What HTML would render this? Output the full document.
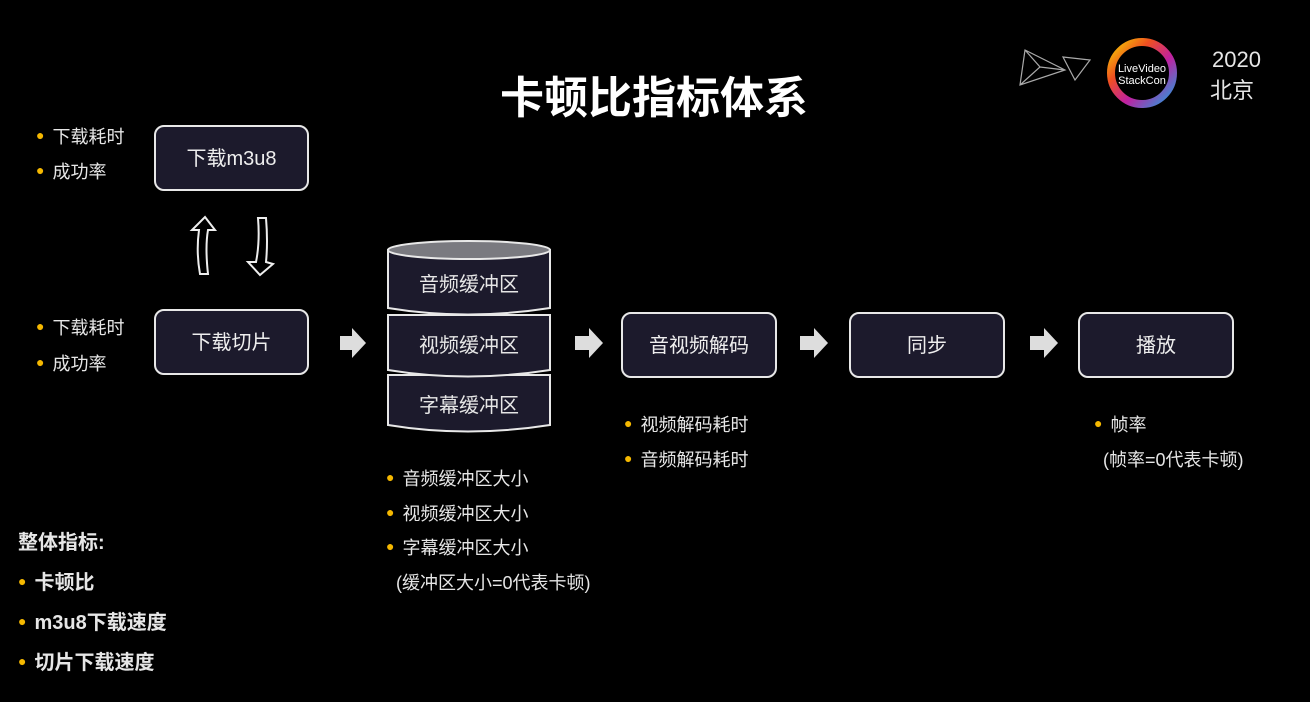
<!DOCTYPE html>
<html><head><meta charset="utf-8"><style>
body{margin:0;width:1310px;height:702px;background:#000;overflow:hidden;position:relative;font-family:"Liberation Sans","Noto Sans CJK SC",sans-serif;color:#e8e8e8}
.t{position:absolute;white-space:nowrap;font-size:18px;color:#e6e6e6}
.b{position:absolute;border:2px solid #e8e8e8;border-radius:10px;background:#1c1a2c;display:flex;align-items:center;justify-content:center;font-size:20px;color:#eee;box-sizing:border-box;padding-bottom:4px}
.dot{color:#f5b800;font-size:14px;margin-right:8px;position:relative;top:-3px}
</style></head><body>
<div class="t" style="left:500px;top:62px;font-size:44px;font-weight:bold;color:#fff">卡顿比指标体系</div>

<svg style="position:absolute;left:1015px;top:45px" width="80" height="45"><g fill="none" stroke="#aaa" stroke-width="1.2"><path d="M10 5 L50 25 L5 40 Z M10 5 L25 22 L5 40 M25 22 L50 25"/><path d="M48 12 L75 15 L60 35 Z"/></g></svg>
<svg style="position:absolute;left:1104px;top:36px" width="76" height="76"><defs><linearGradient id="g" x1="0" y1="0" x2="1" y2="1"><stop offset="0" stop-color="#f5d000"/><stop offset=".3" stop-color="#f05020"/><stop offset=".6" stop-color="#c020a0"/><stop offset="1" stop-color="#20a0e0"/></linearGradient></defs><circle cx="38" cy="37" r="31" fill="none" stroke="url(#g)" stroke-width="8"/><text x="38" y="36" font-size="11" fill="#fff" text-anchor="middle" font-family="Liberation Sans">LiveVideo</text><text x="38" y="48" font-size="11" fill="#fff" text-anchor="middle" font-family="Liberation Sans">StackCon</text></svg>
<div class="t" style="left:1212px;top:47px;font-size:22px">2020</div>
<div class="t" style="left:1210px;top:73px;font-size:22px">北京</div>

<div class="t" style="left:36px;top:123px"><span class="dot">●</span>下载耗时</div>
<div class="t" style="left:36px;top:158px"><span class="dot">●</span>成功率</div>
<div class="t" style="left:36px;top:314px"><span class="dot">●</span>下载耗时</div>
<div class="t" style="left:36px;top:350px"><span class="dot">●</span>成功率</div>

<div class="b" style="left:154px;top:125px;width:155px;height:66px">下载m3u8</div>
<div class="b" style="left:154px;top:309px;width:155px;height:66px">下载切片</div>

<svg style="position:absolute;left:180px;top:212px" width="100" height="70" fill="none" stroke="#eee" stroke-width="2"><path d="M20 62 L28 62 Q25 35 28 18 L35 18 L25 5 L12 18 L19 18 Q16 40 20 62 Z"/><path d="M78 6 L86 6 Q88 30 86 50 L93 52 L80 63 L68 50 L76 50 Q80 30 78 6 Z"/></svg>

<svg style="position:absolute;left:385px;top:238px" width="170" height="200">
<g stroke="#e8e8e8" stroke-width="2" fill="#1c1a2c">
<path d="M3 137 L3 187 Q82 200 165 187 L165 137 Z"/>
<path d="M3 77 L3 132 Q82 145 165 132 L165 77 Z"/>
<path d="M3 12 L3 70 Q82 83 165 70 L165 12 Z"/>
<ellipse cx="84" cy="12" rx="81" ry="9" fill="#7a7a80"/>
</g></svg>
<div class="t" style="left:419px;top:268px;font-size:20px">音频缓冲区</div>
<div class="t" style="left:419px;top:329px;font-size:20px">视频缓冲区</div>
<div class="t" style="left:419px;top:389px;font-size:20px">字幕缓冲区</div>

<div class="b" style="left:621px;top:312px;width:156px;height:66px">音视频解码</div>
<div class="b" style="left:849px;top:312px;width:156px;height:66px">同步</div>
<div class="b" style="left:1078px;top:312px;width:156px;height:66px">播放</div>

<svg style="position:absolute;left:0;top:0" width="1310" height="702" fill="#ddd">
<path d="M340 336 h12 v-8 l14 15 l-14 15 v-8 h-12 Z"/>
<path d="M575 336 h14 v-8 l14 15 l-14 15 v-8 h-14 Z"/>
<path d="M800 336 h14 v-8 l14 15 l-14 15 v-8 h-14 Z"/>
<path d="M1030 336 h14 v-8 l14 15 l-14 15 v-8 h-14 Z"/>
</svg>

<div class="t" style="left:386px;top:465px"><span class="dot">●</span>音频缓冲区大小</div>
<div class="t" style="left:386px;top:500px"><span class="dot">●</span>视频缓冲区大小</div>
<div class="t" style="left:386px;top:534px"><span class="dot">●</span>字幕缓冲区大小</div>
<div class="t" style="left:396px;top:569px">(缓冲区大小=0代表卡顿)</div>

<div class="t" style="left:624px;top:411px"><span class="dot">●</span>视频解码耗时</div>
<div class="t" style="left:624px;top:446px"><span class="dot">●</span>音频解码耗时</div>

<div class="t" style="left:1094px;top:411px"><span class="dot">●</span>帧率</div>
<div class="t" style="left:1103px;top:446px">(帧率=0代表卡顿)</div>

<div class="t" style="left:18px;top:526px;font-size:20px;font-weight:bold">整体指标:</div>
<div class="t" style="left:18px;top:566px;font-size:20px;font-weight:bold"><span class="dot">●</span>卡顿比</div>
<div class="t" style="left:18px;top:606px;font-size:20px;font-weight:bold"><span class="dot">●</span>m3u8下载速度</div>
<div class="t" style="left:18px;top:646px;font-size:20px;font-weight:bold"><span class="dot">●</span>切片下载速度</div>
</body></html>
